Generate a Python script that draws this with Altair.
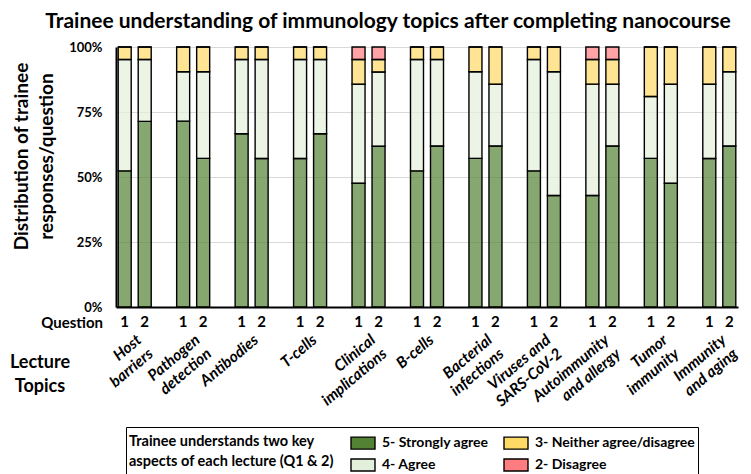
import altair as alt
import pandas as pd

# ---- data ----
topics = ["Host|barriers", "Pathogen|detection", "Antibodies", "T-cells",
          "Clinical|implications", "B-cells", "Bacterial|infections",
          "Viruses and|SARS-CoV-2", "Autoimmunity|and allergy", "Tumor|immunity",
          "Immunity|and aging"]
questions = ["1", "2"]
categories = ["5- Strongly agree", "4- Agree", "3- Neither agree/disagree", "2- Disagree"]
cat_colors = ["#548235", "#E2EFDA", "#FFD966", "#FF7C80"]
legend_order = ["5- Strongly agree", "3- Neither agree/disagree", "4- Agree", "2- Disagree"]

# percent of trainees per bar (topic Q1, topic Q2, ...)
strongly_agree = [52.4, 71.4, 71.4, 57.1, 66.7, 57.1, 57.1, 66.7, 47.6, 61.9, 52.4,
                  61.9, 57.1, 61.9, 52.4, 42.9, 42.9, 61.9, 57.1, 47.6, 57.1, 61.9]
agree = [42.9, 23.8, 19.0, 33.3, 28.6, 38.1, 38.1, 28.6, 38.1, 28.6, 42.9,
         33.3, 33.3, 23.8, 42.9, 47.6, 42.9, 23.8, 23.8, 38.1, 28.6, 28.6]
neither = [4.8, 4.8, 9.5, 9.5, 4.8, 4.8, 4.8, 4.8, 9.5, 4.8, 4.8,
           4.8, 9.5, 14.3, 4.8, 9.5, 9.5, 9.5, 19.0, 14.3, 14.3, 9.5]
disagree = [0, 0, 0, 0, 0, 0, 0, 0, 4.8, 4.8, 0,
            0, 0, 0, 0, 0, 4.8, 4.8, 0, 0, 0, 0]

title_text = "Trainee understanding of immunology topics after completing nanocourse"
legend_title = ["Trainee understands two key", "aspects of each lecture (Q1 & 2)"]
y_title = ["Distribution of trainee", "responses/question"]

# ---- build long table ----
rows = []
series = [strongly_agree, agree, neither, disagree]
for i in range(len(topics) * 2):
    t = topics[i // 2]
    q = questions[i % 2]
    for k, cat in enumerate(categories):
        rows.append({"topic": t, "question": q, "category": cat,
                     "rank": k, "pct": series[k][i]})
df = pd.DataFrame(rows)
qdf = pd.DataFrame([{"topic": topics[i // 2], "question": questions[i % 2]}
                    for i in range(len(topics) * 2)])

FONT = "Lato"

x_enc = alt.X("topic:N", sort=topics,
              scale=alt.Scale(paddingInner=0.36, paddingOuter=0),
              axis=alt.Axis(title=None, labelAngle=-40, labelAlign="right",
                            labelBaseline="top", labelPadding=25,
                            labelExpr="split(datum.label, '|')",
                            labelFont=FONT, labelFontSize=15.5, labelFontStyle="italic",
                            labelFontWeight="bold", labelColor="black",
                            labelLineHeight=18, labelOverlap=False, labelBound=False,
                            ticks=False, domainColor="black", domainWidth=2))
xo_enc = alt.XOffset("question:N", sort=questions,
                     scale=alt.Scale(paddingInner=0.35, paddingOuter=0.11))

bars = alt.Chart(df).mark_bar(stroke="black", strokeWidth=1.4, fillOpacity=0.7).encode(
    x=x_enc,
    xOffset=xo_enc,
    y=alt.Y("pct:Q", stack="normalize",
            scale=alt.Scale(domain=[0, 1], nice=False),
            axis=alt.Axis(title=y_title, format="%", values=[0, 0.25, 0.5, 0.75, 1],
                          labelFont=FONT, labelFontSize=13, labelFontWeight="bold",
                          labelColor="black", labelPadding=14, ticks=False,
                          domainColor="black", domainWidth=2,
                          grid=True, gridColor="#d9d9d9", gridWidth=1,
                          titleFont=FONT, titleFontSize=19, titleFontWeight="bold",
                          titleColor="black", titleAngle=270, titleAlign="center",
                          titleBaseline="top", titleLineHeight=25,
                          titleX=-104, titleY=109)),
    color=alt.Color("category:N",
                    scale=alt.Scale(domain=categories, range=cat_colors),
                    legend=alt.Legend(orient="none", legendX=10, legendY=380,
                                      values=legend_order,
                                      direction="horizontal",
                                      columns=2, gridAlign="each", title=legend_title,
                                      titleOrient="left", titleAlign="left",
                                      titleBaseline="middle", titleLimit=400,
                                      titleFont=FONT, titleFontSize=14.5,
                                      titleFontWeight="bold", titleColor="black",
                                      titleLineHeight=20, titlePadding=16,
                                      labelFont=FONT, labelFontSize=14,
                                      labelFontWeight="bold", labelColor="black",
                                      labelLimit=400,
                                      labelOffset=6, columnPadding=12, rowPadding=0,
                                      symbolType="M-1,-0.5H1V0.5H-1Z", symbolSize=576,
                                      symbolStrokeColor="black", symbolStrokeWidth=1.4,
                                      symbolOpacity=1, padding=3,
                                      strokeColor="black")),
    order=alt.Order("rank:Q", sort="ascending"),
)

qlabels = alt.Chart(qdf).mark_text(font=FONT, fontSize=15, fontWeight="bold",
                                   color="black", baseline="middle", dy=15).encode(
    x=alt.X("topic:N", sort=topics),
    xOffset=alt.XOffset("question:N", sort=questions),
    y=alt.datum(0),
    text="question:N",
)

qtitle = alt.Chart(pd.DataFrame({"t": ["Question"]})).mark_text(
    font=FONT, fontSize=15, fontWeight="bold", color="black",
    align="right", baseline="middle", dy=16).encode(
    x=alt.value(-13), y=alt.datum(0), text="t:N")

ltitle = alt.Chart(pd.DataFrame({"t": ["Lecture"]})).mark_text(
    font=FONT, fontSize=18, fontWeight="bold", color="black",
    align="center", baseline="middle", dy=56, lineHeight=24).encode(
    x=alt.value(-76), y=alt.datum(0), text=alt.value(["Lecture", "Topics"]))

chart = alt.layer(bars, qlabels, qtitle, ltitle).properties(
    width=622, height=260,
    autosize=alt.AutoSizeParams(type="none"),
    padding={"left": 108, "top": 39, "right": 5, "bottom": 167},
    title=alt.TitleParams(text=title_text, font=FONT, fontSize=21, fontWeight="bold",
                          color="black", anchor="middle", frame="group", dx=-39,
                          offset=9),
).configure(font=FONT).configure_view(stroke=None)

chart.save("out.html", embed_options={"renderer": "svg", "actions": False})
